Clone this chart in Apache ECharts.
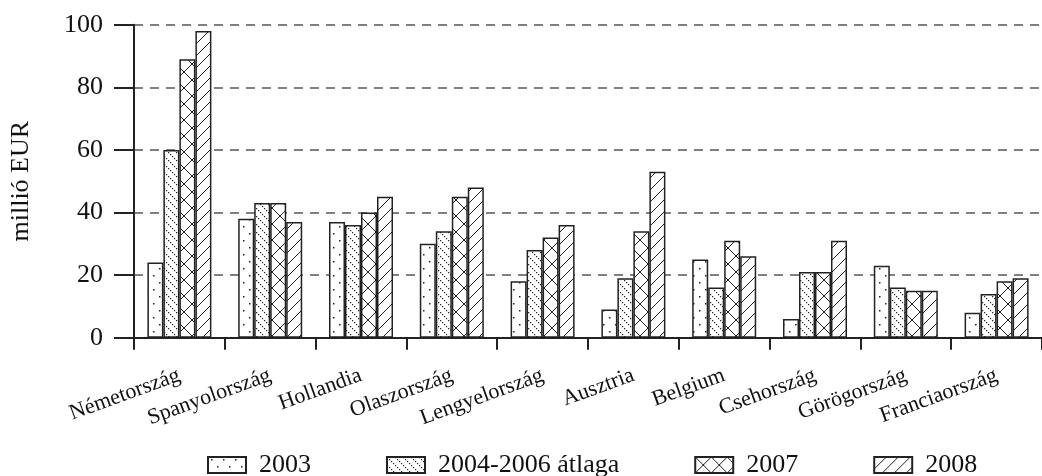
<!DOCTYPE html>
<html>
<head>
<meta charset="utf-8">
<script src="https://cdn.jsdelivr.net/npm/echarts@6/dist/echarts.min.js"></script>
<style>
html,body{margin:0;padding:0;background:#fff;}
#chart{width:1042px;height:476px;}
</style>
</head>
<body>
<div id="chart"></div>
<script>
const categories = ['Németország','Spanyolország','Hollandia','Olaszország','Lengyelország','Ausztria','Belgium','Csehország','Görögország','Franciaország'];
const seriesNames = ['2003','2004-2006 átlaga','2007','2008'];
const values2003 = [24,38,37,30,18,9,25,6,23,8];
const values2004_2006 = [60,43,36,34,28,19,16,21,16,14];
const values2007 = [89,43,40,45,32,34,31,21,15,18];
const values2008 = [98,37,45,48,36,53,26,31,15,19];
const yMin = 0, yMax = 100, yStep = 20;
const yAxisName = 'millió EUR';

const INK = '#222';
function tile(w, h, draw) {
  const c = document.createElement('canvas');
  c.width = w; c.height = h;
  const g = c.getContext('2d');
  g.fillStyle = '#fff'; g.fillRect(0, 0, w, h);
  g.fillStyle = INK; g.strokeStyle = INK;
  draw(g);
  return { image: c, repeat: 'repeat' };
}
const patDots = tile(12, 14, g => {
  g.fillRect(3, 2, 1.5, 1.5);
  g.fillRect(9, 9, 1.5, 1.5);
});
const patDotDiag = tile(8, 8, g => {
  for (let i = 0; i < 8; i += 2) g.fillRect(i, i, 1.2, 1.2);
});
const patCross = tile(16, 16, g => {
  g.lineWidth = 1;
  g.beginPath();
  g.moveTo(0, 0); g.lineTo(16, 16);
  g.moveTo(16, 0); g.lineTo(0, 16);
  g.stroke();
});
const patSlash = tile(12, 12, g => {
  g.lineWidth = 1;
  g.beginPath();
  g.moveTo(-1, 13); g.lineTo(13, -1);
  g.moveTo(-2, 2); g.lineTo(2, -2);
  g.moveTo(10, 14); g.lineTo(14, 10);
  g.stroke();
});
const patterns = [patDots, patDotDiag, patCross, patSlash];
const dataSets = [values2003, values2004_2006, values2007, values2008];

const FONT = '"Liberation Serif", "Times New Roman", serif';
const chart = echarts.init(document.getElementById('chart'), null, {renderer: 'canvas'});
chart.setOption({
  animation: false,
  backgroundColor: '#fff',
  textStyle: { fontFamily: FONT, color: '#111' },
  grid: { left: 133, top: 24.7, width: 917, height: 313, containLabel: false },
  legend: {
    left: 207, top: 452, padding: 0,
    icon: 'rect',
    itemWidth: 38, itemHeight: 16, itemGap: 75,
    textStyle: { fontFamily: FONT, fontSize: 26, color: '#111', padding: [0, 0, 0, 8] },
    data: seriesNames
  },
  xAxis: {
    type: 'category',
    data: categories,
    axisLine: { lineStyle: { color: INK, width: 2 } },
    axisTick: { show: true, length: 12, lineStyle: { color: INK, width: 2 } },
    axisLabel: { interval: 0, rotate: 20, margin: 37, fontFamily: FONT, fontSize: 22, color: '#111' },
    splitLine: { show: false }
  },
  yAxis: {
    type: 'value',
    min: yMin, max: yMax, interval: yStep,
    name: yAxisName,
    nameLocation: 'middle',
    nameRotate: 90,
    nameGap: 100,
    nameTextStyle: { fontFamily: FONT, fontSize: 26, color: '#111' },
    axisLine: { show: true, lineStyle: { color: INK, width: 2 } },
    axisTick: { show: true, length: 20, lineStyle: { color: INK, width: 2 } },
    axisLabel: { margin: 31, fontFamily: FONT, fontSize: 26, color: '#111' },
    splitLine: { show: true, lineStyle: { color: '#555', width: 1.5, type: [9, 7] } }
  },
  series: seriesNames.map((name, i) => ({
    name: name,
    type: 'bar',
    data: dataSets[i],
    barWidth: 16,
    barGap: '0%',
    itemStyle: { color: patterns[i], borderColor: INK, borderWidth: 1.5 }
  }))
});
</script>
</body>
</html>
